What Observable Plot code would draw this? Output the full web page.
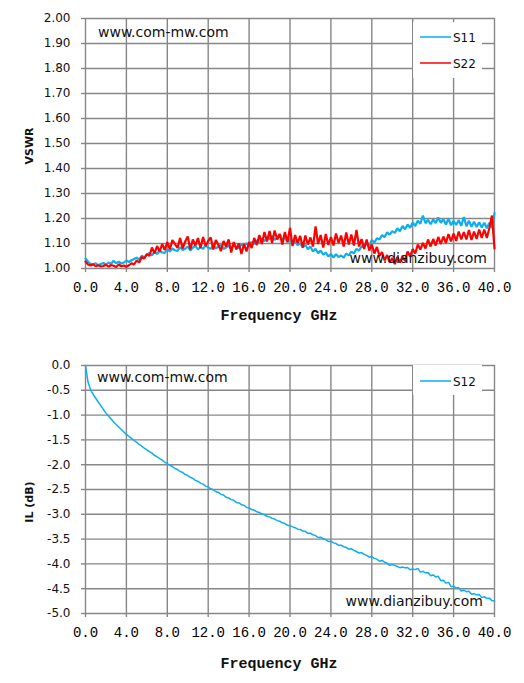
<!DOCTYPE html>
<html><head><meta charset="utf-8">
<script src="https://cdn.jsdelivr.net/npm/d3@7"></script>
<script src="https://cdn.jsdelivr.net/npm/@observablehq/plot@0.6"></script>
<style>
body{margin:0;background:#fff;width:524px;height:683px;overflow:hidden}
svg{display:block}
</style></head><body><div id="c"></div>
<script>
// sampling step of the traces, GHz
const step = 0.25;

// S11 VSWR, f = 0 … 40 GHz
const s11 = [1.040,
 1.027,1.019,1.017,1.021, 1.013,1.018,1.022,1.015, 1.024,1.019,1.031,1.021, 1.027,1.020,1.024,1.032,
 1.026,1.033,1.038,1.043, 1.036,1.051,1.044,1.055, 1.062,1.052,1.067,1.058, 1.071,1.064,1.062,1.077,
 1.068,1.080,1.073,1.070, 1.085,1.074,1.079,1.088, 1.072,1.084,1.091,1.076, 1.086,1.078,1.093,1.083,
 1.079,1.092,1.081,1.087, 1.094,1.078,1.084,1.091, 1.080,1.095,1.086,1.082, 1.097,1.089,1.101,1.092,
 1.106,1.098,1.113,1.104, 1.120,1.109,1.126,1.117, 1.131,1.114,1.124,1.136, 1.113,1.125,1.106,1.117,
 1.098,1.111,1.093,1.101, 1.084,1.095,1.077,1.088, 1.068,1.079,1.061,1.072, 1.055,1.064,1.048,1.058,
 1.044,1.057,1.046,1.052, 1.043,1.060,1.052,1.068, 1.060,1.079,1.071,1.090, 1.084,1.102,1.093,1.114,
 1.104,1.121,1.116,1.134, 1.125,1.145,1.135,1.150, 1.142,1.161,1.149,1.170, 1.157,1.176,1.163,1.184,
 1.170,1.191,1.179,1.212, 1.181,1.195,1.177,1.196, 1.182,1.204,1.183,1.197, 1.176,1.199,1.173,1.191,
 1.174,1.193,1.171,1.206, 1.169,1.191,1.167,1.187, 1.166,1.185,1.164,1.183, 1.161,1.183,1.163,1.222];

// S22 VSWR
const s22 = [1.028,
 1.016,1.012,1.017,1.009, 1.013,1.008,1.010,1.015, 1.007,1.014,1.011,1.006, 1.016,1.009,1.012,1.007,
 1.013,1.021,1.016,1.032, 1.024,1.046,1.040,1.058, 1.050,1.084,1.060,1.090, 1.068,1.098,1.074,1.106,
 1.076,1.114,1.098,1.082, 1.122,1.080,1.108,1.128, 1.076,1.116,1.092,1.122, 1.082,1.126,1.090,1.110,
 1.124,1.076,1.114,1.094, 1.070,1.110,1.088,1.116, 1.064,1.106,1.076,1.100, 1.058,1.098,1.068,1.106,
 1.082,1.122,1.094,1.134, 1.098,1.146,1.108,1.150, 1.102,1.152,1.116,1.138, 1.096,1.146,1.106,1.162,
 1.090,1.134,1.102,1.130, 1.084,1.132,1.096,1.124, 1.088,1.168,1.098,1.134, 1.084,1.138,1.094,1.126,
 1.092,1.140,1.102,1.132, 1.088,1.144,1.096,1.136, 1.092,1.154,1.088,1.118, 1.078,1.116,1.072,1.096,
 1.060,1.086,1.050,1.066, 1.032,1.054,1.024,1.042, 1.018,1.046,1.024,1.048, 1.030,1.068,1.048,1.078,
 1.060,1.096,1.076,1.102, 1.080,1.116,1.088,1.118, 1.092,1.126,1.098,1.128, 1.102,1.138,1.108,1.140,
 1.110,1.148,1.116,1.146, 1.116,1.154,1.114,1.148, 1.118,1.156,1.122,1.156, 1.122,1.162,1.212,1.080];

// S12 insertion loss, dB
const s12 = [0.000,
 -0.340,-0.490,-0.585,-0.660, -0.735,-0.810,-0.885,-0.960, -1.020,-1.080,-1.140,-1.190, -1.240,-1.290,-1.340,-1.390,
 -1.432,-1.468,-1.512,-1.548, -1.592,-1.626,-1.668,-1.700, -1.738,-1.768,-1.812,-1.840, -1.878,-1.906,-1.946,-1.978,
 -2.012,-2.036,-2.076,-2.098, -2.134,-2.158,-2.196,-2.218, -2.254,-2.276,-2.316,-2.338, -2.372,-2.392,-2.432,-2.450,
 -2.486,-2.504,-2.546,-2.560, -2.598,-2.612,-2.656,-2.670, -2.704,-2.718,-2.760,-2.770, -2.806,-2.818,-2.862,-2.870,
 -2.905,-2.918,-2.948,-2.962, -2.990,-3.010,-3.040,-3.052, -3.080,-3.098,-3.128,-3.142, -3.170,-3.186,-3.222,-3.232,
 -3.254,-3.270,-3.300,-3.306, -3.338,-3.346,-3.384,-3.382, -3.414,-3.430,-3.468,-3.462, -3.494,-3.510,-3.548,-3.542,
 -3.576,-3.590,-3.626,-3.622, -3.654,-3.668,-3.706,-3.694, -3.726,-3.750,-3.782,-3.772, -3.806,-3.828,-3.866,-3.852,
 -3.888,-3.904,-3.946,-3.930, -3.966,-3.988,-4.030,-4.012, -4.030,-4.052,-4.076,-4.062, -4.080,-4.074,-4.118,-4.100,
 -4.116,-4.090,-4.166,-4.150, -4.180,-4.172,-4.238,-4.222, -4.262,-4.250,-4.338,-4.328, -4.388,-4.372,-4.460,-4.450,
 -4.486,-4.478,-4.548,-4.530, -4.560,-4.552,-4.612,-4.600, -4.624,-4.618,-4.680,-4.662, -4.696,-4.690,-4.740,-4.750];

const xTicks = [0, 4, 8, 12, 16, 20, 24, 28, 32, 36, 40];
const vswrTicks = [1.0, 1.1, 1.2, 1.3, 1.4, 1.5, 1.6, 1.7, 1.8, 1.9, 2.0];
const ilTicks = [0, -0.5, -1.0, -1.5, -2.0, -2.5, -3.0, -3.5, -4.0, -4.5, -5.0];

const names1 = ["S11", "S22"];
const colors1 = ["#0BAEEE", "#FF0000"];
const names2 = ["S12"];
const colors2 = ["#0BAEEE"];

const GRID = "#878787";
const rows = values => values.map((v, i) => ({f: i * step, v}));

function chart(o) {
  const svg = Plot.plot({
    width: 524, height: o.height,
    marginLeft: 85, marginRight: 30, marginTop: o.marginTop, marginBottom: o.marginBottom,
    style: {background: "#fff", fontFamily: "DejaVu Sans", fontSize: "12px", color: "#111", overflow: "visible"},
    x: {domain: [0, 40], ticks: xTicks, tickFormat: d => d.toFixed(1), tickSize: 4, tickPadding: 10, label: null},
    y: {domain: o.yDomain, ticks: o.yTicks, tickFormat: o.yFormat, tickSize: 4, tickPadding: 11, label: null},
    marks: [
      Plot.ruleX(xTicks, {stroke: GRID, strokeWidth: 1.4}),
      Plot.ruleY(o.yTicks, {stroke: GRID, strokeWidth: 1.4}),
      ...o.series.map((vals, i) => Plot.line(rows(vals), {x: "f", y: "v", stroke: o.colors[i], strokeWidth: o.lw, strokeLinejoin: "miter"}))
    ]
  });
  const s = d3.select(svg);
  s.selectAll('g[aria-label^="x-axis"] text').attr("font-family", "Liberation Mono").attr("font-size", 14).attr("fill", "#000");
  s.selectAll('g[aria-label^="y-axis"] text').attr("font-family", "DejaVu Sans").attr("font-size", 12).attr("fill", "#111");
  s.selectAll('g[aria-label^="x-axis"] line, g[aria-label^="x-axis"] path, g[aria-label^="y-axis"] line, g[aria-label^="y-axis"] path')
    .attr("stroke", GRID).attr("stroke-width", 1.4);
  const H = o.height, bottom = H - o.marginBottom;
  // axis titles
  s.append("text").text("Frequency GHz").attr("x", 279).attr("y", bottom + o.xTitleDy)
    .attr("text-anchor", "middle").attr("font-family", "Liberation Mono").attr("font-weight", "bold")
    .attr("font-size", 15).attr("fill", "#111");
  s.append("text").text(o.yTitle).attr("transform", `translate(33,${o.yTitleY}) rotate(-90)`)
    .attr("text-anchor", "middle").attr("font-family", "DejaVu Sans").attr("font-weight", "bold")
    .attr("font-size", 11).attr("fill", "#111");
  // watermarks
  s.append("text").text("www.com-mw.com").attr("x", o.wm1[0]).attr("y", o.wm1[1]).attr("text-anchor", "start")
    .attr("font-family", "DejaVu Sans").attr("font-size", 14).attr("fill", "#111");
  s.append("text").text("www.dianzibuy.com").attr("x", o.wm2[0]).attr("y", o.wm2[1]).attr("text-anchor", "end")
    .attr("font-family", "DejaVu Sans").attr("font-size", 14).attr("fill", "#111");
  // legend
  s.append("rect").attr("x", 413).attr("y", o.legend.y).attr("width", 69).attr("height", o.legend.h).attr("fill", "#fff");
  o.names.forEach((n, i) => {
    const ly = o.legend.first + i * 26;
    s.append("line").attr("x1", 420).attr("x2", 451).attr("y1", ly).attr("y2", ly)
      .attr("stroke", o.colors[i]).attr("stroke-width", 1.5);
    s.append("text").text(n).attr("x", 453).attr("y", ly + 5).attr("text-anchor", "start")
      .attr("font-family", "DejaVu Sans").attr("font-size", 12).attr("fill", "#111");
  });
  return svg;
}

const c = document.getElementById("c");
c.append(chart({
  height: 345, marginTop: 18, marginBottom: 77,
  yDomain: [1, 2], yTicks: vswrTicks, yFormat: d => d.toFixed(2),
  series: [s11, s22], colors: colors1, names: names1, lw: 2.2,
  xTitleDy: 52, yTitle: "VSWR", yTitleY: 146,
  wm1: [98, 37], wm2: [487, 263],
  legend: {y: 22, h: 56, first: 37}
}));
c.append(chart({
  height: 338, marginTop: 20, marginBottom: 70,
  yDomain: [-5, 0], yTicks: ilTicks, yFormat: d => d.toFixed(1),
  series: [s12], colors: colors2, names: names2, lw: 1.5,
  xTitleDy: 55, yTitle: "IL (dB)", yTitleY: 157,
  wm1: [97, 37], wm2: [483, 261],
  legend: {y: 20, h: 30, first: 36}
}));
</script>
</body></html>
